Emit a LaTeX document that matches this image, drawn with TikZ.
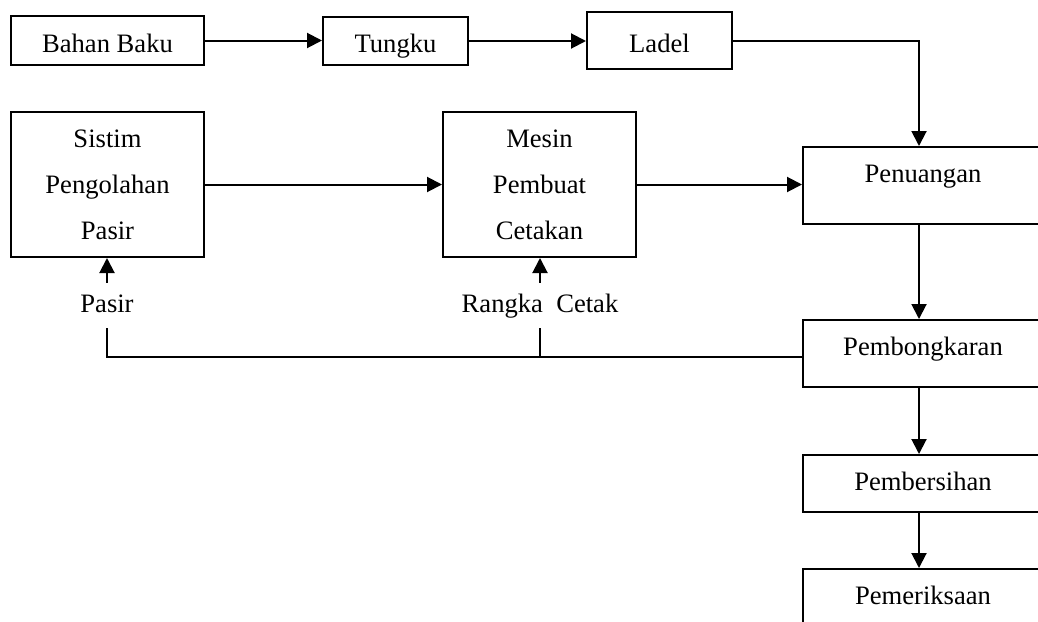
\documentclass[tikz,border=0pt]{standalone}
\usepackage{fontspec}
\setmainfont{Liberation Serif}
\usetikzlibrary{arrows.meta}
\tikzset{
  box/.style={draw,line width=1pt,text height=14pt,text depth=2.5pt,inner ysep=2pt},
  bigbox/.style={draw,line width=1pt,align=center,minimum width=96.5pt,minimum height=72.5pt,
    font=\fontsize{13.3}{23}\selectfont},
  colbox/.style={draw,line width=1pt,minimum width=120pt,text height=10pt,inner ysep=7.5pt,anchor=north},
  lbl/.style={text height=10pt,text depth=3.5pt,inner ysep=4.5pt},
  flow/.style={line width=1pt,-{Triangle[length=7.5pt,width=7.5pt]}},
  link/.style={line width=1pt}
}
\begin{document}
\begin{tikzpicture}[x=0.5pt,y=-0.5pt,font=\fontsize{13.3}{16}\selectfont]
  \useasboundingbox (0,0) rectangle (1038,621);
  \clip (0,0) rectangle (1038,621);
  %% top row
  \node[box,minimum width=96.5pt,minimum height=24.5pt] (bahan) at (107.5,40.5) {Bahan Baku};
  \node[box,minimum width=72.5pt,minimum height=24pt] (tungku) at (395.5,41) {Tungku};
  \node[box,minimum width=72.5pt,minimum height=28.5pt] (ladel) at (659.5,40.5) {Ladel};
  %% moulding
  \node[bigbox] (sistim) at (107.5,184.5) {Sistim\\Pengolahan\\Pasir};
  \node[bigbox] (mesin) at (539.5,184.5) {Mesin\\Pembuat\\Cetakan};
  \node[lbl] (pasir) at (107,305.5) {Pasir};
  \node[lbl] (rangka) at (540,305.5) {Rangka\ \ Cetak};
  %% right column, cut off by the page edge
  \node[colbox,text depth=13.5pt] (penuangan) at (923,146) {Penuangan};
  \node[colbox,text depth=8.5pt] (bongkar) at (923,319) {Pembongkaran};
  \node[colbox,text depth=3.5pt] (bersih) at (923,454) {Pembersihan};
  \node[colbox,text depth=3.5pt] (periksa) at (923,568) {Pemeriksaan};
  \coordinate (col) at (919,0);
  %% connectors
  \draw[flow] (bahan.east) -- (bahan.east -| tungku.west);
  \draw[flow] (tungku.east) -- (tungku.east -| ladel.west);
  \draw[flow] (ladel.east) -| (col |- penuangan.north);
  \draw[flow] (sistim.east) -- (mesin.west);
  \draw[flow] (mesin.east) -- (mesin.east -| penuangan.west);
  \draw[flow] (col |- penuangan.south) -- (col |- bongkar.north);
  \draw[flow] (col |- bongkar.south) -- (col |- bersih.north);
  \draw[flow] (col |- bersih.south) -- (col |- periksa.north);
  \draw[flow] (pasir.north) -- (pasir.north |- sistim.south);
  \draw[flow] (rangka.north) -- (rangka.north |- mesin.south);
  %% return line
  \coordinate (ret) at (107,357);
  \draw[link] (pasir.south) -- (ret) -- (ret -| bongkar.west);
  \draw[link] (rangka.south) -- (rangka.south |- ret);
\end{tikzpicture}
\end{document}
